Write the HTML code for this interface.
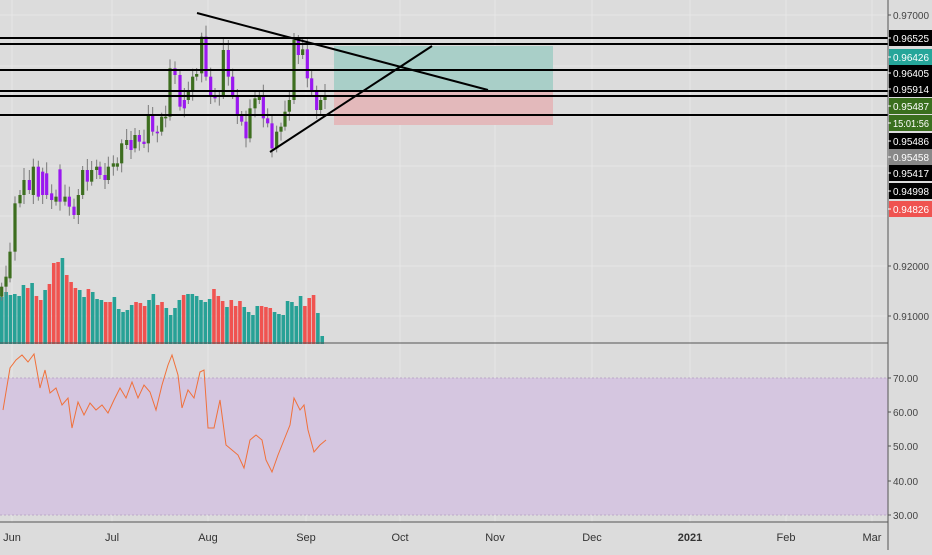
<!DOCTYPE html><html><head><style>body{margin:0;background:#dcdcdc;font-family:"Liberation Sans",sans-serif}</style></head><body>
<svg width="932" height="550" xmlns="http://www.w3.org/2000/svg" font-family="Liberation Sans" font-size="11">
<rect width="932" height="550" fill="#dcdcdc"/>
<g stroke="#e6e6e6" stroke-width="1" id="grid"></g>
<rect x="0" y="378" width="888" height="137" fill="#d5c6e0"/>
<line x1="0" y1="378" x2="888" y2="378" stroke="#bba8c8" stroke-dasharray="2,2"/>
<line x1="0" y1="515" x2="888" y2="515" stroke="#bba8c8" stroke-dasharray="2,2"/>
<rect x="334" y="46" width="219" height="46" fill="#a9cfc8"/>
<rect x="334" y="92" width="219" height="33" fill="#e3b9bb"/>
<g id="vol"></g><g id="c"></g>
<g stroke="#000" stroke-width="2">
<line x1="0" y1="38" x2="888" y2="38"/><line x1="0" y1="44" x2="888" y2="44"/><line x1="0" y1="70" x2="888" y2="70"/>
<line x1="0" y1="91" x2="888" y2="91"/><line x1="0" y1="96" x2="888" y2="96"/><line x1="0" y1="115" x2="888" y2="115"/>
<line x1="197" y1="13" x2="488" y2="90"/><line x1="270" y1="152" x2="432" y2="46"/>
</g>
<polyline id="rsi" fill="none" stroke="#f0703a" stroke-width="1"/>
<line x1="0" y1="343" x2="888" y2="343" stroke="#555"/>
<line x1="888" y1="0" x2="888" y2="550" stroke="#555"/>
<line x1="0" y1="522" x2="888" y2="522" stroke="#555"/>
<g id="ax"></g>
<g fill="#333" font-size="11"><text x="12" y="541" text-anchor="middle">Jun</text><text x="112" y="541" text-anchor="middle">Jul</text><text x="208" y="541" text-anchor="middle">Aug</text><text x="306" y="541" text-anchor="middle">Sep</text><text x="400" y="541" text-anchor="middle">Oct</text><text x="495" y="541" text-anchor="middle">Nov</text><text x="592" y="541" text-anchor="middle">Dec</text><text x="690" y="541" text-anchor="middle" font-weight="bold">2021</text><text x="786" y="541" text-anchor="middle">Feb</text><text x="872" y="541" text-anchor="middle">Mar</text></g>
</svg>
<script>
var N='http://www.w3.org/2000/svg';function el(p,t,a,tx){var e=document.createElementNS(N,t);for(var k in a)e.setAttribute(k,a[k]);if(tx)e.textContent=tx;document.getElementById(p).appendChild(e);return e;}
[12,112,208,306,400,495,592,690,786,872].forEach(function(x){el('grid','line',{x1:x,y1:0,x2:x,y2:522});});
[15,66,116,166,216,266,316,412,446,481].forEach(function(y){el('grid','line',{x1:0,y1:y,x2:888,y2:y});});
// [x(zoom), top, bottom, green?]
var C=[[5,860,890,1],[18,830,860,1],[30,755,835,1],[45,610,755,1],[60,585,610,1],[72,540,585,1],[88,540,570,0],[100,500,585,1],[115,500,590,0],[128,515,585,0],[140,520,585,0],[155,580,600,0],[168,590,605,1],[180,508,605,0],[195,590,605,1],[208,590,620,0],[222,620,645,0],[235,585,645,1],[248,510,585,1],[262,510,545,0],[275,510,545,1],[290,500,510,1],[300,500,525,0],[315,525,540,0],[325,500,540,1],[340,490,500,1],[352,490,500,1],[365,430,490,1],[380,420,435,1],[393,420,450,0],[405,405,445,1],[418,405,425,0],[432,425,432,0],[445,345,430,1],[458,345,395,0],[472,395,400,0],[485,350,395,1],[497,350,355,1],[510,205,350,1],[525,205,225,0],[540,225,320,0],[553,300,325,0],[565,275,300,1],[578,230,275,1],[590,222,230,1],[605,110,220,1],[618,110,230,0],[632,230,285,0],[645,285,295,0],[658,285,290,1],[670,150,285,1],[685,150,230,0],[698,230,285,0],[712,285,345,0],[725,345,365,0],[738,365,415,0],[750,325,415,1],[765,295,325,1],[778,290,300,1],[790,290,355,0],[803,355,370,0],[816,370,445,0],[830,395,445,1],[843,380,395,1],[855,335,380,1],[868,300,335,1],[882,120,300,1],[895,120,165,0],[908,148,165,1],[922,148,235,0],[935,235,275,0],[950,275,330,0],[962,300,330,1],[975,285,300,1]];
C.forEach(function(c,i){var x=c[0]/3,t=c[1]/3,b=c[2]/3;var wt=t-4-(i*7%9),wb=b+4+(i*5%10);
el('c','line',{x1:x,y1:wt,x2:x,y2:wb,stroke:'#7a7a7a','stroke-width':1});
el('c','rect',{x:x-1.6,y:t,width:3.2,height:Math.max(1,b-t),fill:c[3]?'#3d6e1f':'#9a18f0'});});
var vol=[[297,1],[292,1],[295,1],[294,1],[296,1],[285,1],[288,0],[283,1],[296,0],[300,0],[290,1],[284,0],[263,0],[262,0],[258,1],[275,0],[282,0],[288,0],[290,1],[297,1],[289,0],[292,1],[299,1],[300,1],[302,0],[302,0],[297,1],[309,1],[312,1],[310,1],[305,1],[302,0],[303,0],[306,0],[300,1],[294,1],[305,0],[302,0],[308,1],[315,1],[308,1],[300,1],[295,0],[294,1],[294,1],[296,1],[300,1],[302,1],[299,1],[289,0],[296,0],[301,0],[307,1],[300,0],[306,0],[301,0],[307,1],[312,1],[315,1],[306,1],[306,0],[307,0],[308,0],[312,1],[314,1],[315,1],[301,1],[302,1],[306,1],[296,1],[306,0],[298,0],[295,0],[313,1],[336,1]];
vol.forEach(function(v,i){var x=i*4.33;el('vol','rect',{x:x,y:v[0],width:3.6,height:344-v[0],fill:v[1]?'#27a196':'#f05350'});});
var r=[[3,410],[10,368],[16,360],[22,355],[28,362],[34,354],[40,388],[45,370],[50,393],[56,388],[62,405],[68,398],[72,428],[78,402],[84,415],[90,403],[96,410],[102,405],[108,413],[114,400],[120,388],[126,398],[132,382],[138,398],[144,385],[150,392],[156,410],[162,385],[168,365],[172,355],[178,375],[182,408],[188,390],[194,398],[200,372],[204,370],[208,428],[214,428],[220,400],[226,445],[232,450],[238,455],[244,468],[250,440],[256,435],[262,440],[266,460],[272,472],[278,455],[284,440],[290,425],[294,398],[300,410],[304,405],[308,430],[314,452],[320,445],[326,440]];
document.getElementById('rsi').setAttribute('points',r.map(function(p){return p.join(',')}).join(' '));
var L=[[15,'0.97000',null],[38,'0.96525','#000'],[57,'0.96426','#26a69a'],[73,'0.96405','#000'],[89,'0.95914','#000'],[106,'0.95487','#3a6f1e'],[123,'15:01:56','#3a6f1e'],[141,'0.95486','#000'],[157,'0.95458','#888'],[173,'0.95417','#000'],[191,'0.94998','#000'],[209,'0.94826','#ef5350'],[266,'0.92000',null],[316,'0.91000',null],[378,'70.00',null],[412,'60.00',null],[446,'50.00',null],[481,'40.00',null],[515,'30.00',null]];
L.forEach(function(l){if(l[2])el('ax','rect',{x:889,y:l[0]-8,width:43,height:16,fill:l[2]});var a={x:893,y:l[0]+4,fill:l[2]?'#fff':'#444','font-size':10};if(l[1].length>6){a.textLength=36;a.lengthAdjust='spacingAndGlyphs';}el('ax','line',{x1:888,y1:l[0],x2:891,y2:l[0],stroke:l[2]?'#fff':'#555'});el('ax','text',a,l[1]);});
</script></body></html>
